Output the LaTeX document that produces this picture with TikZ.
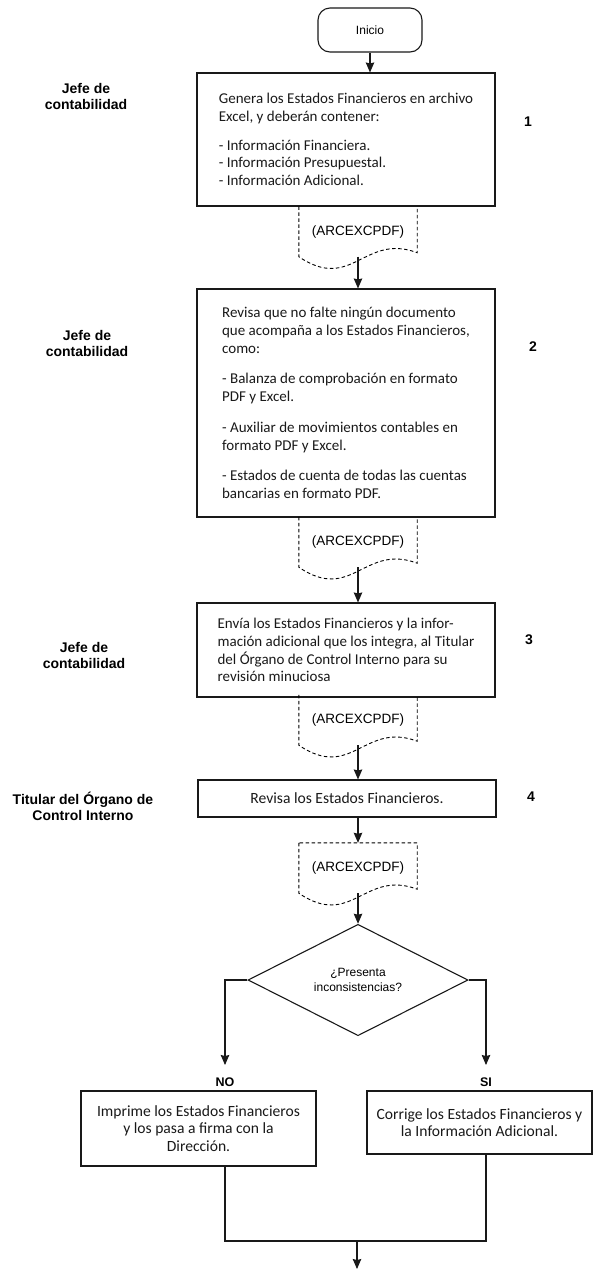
\documentclass[tikz,border=0pt]{standalone}
\usepackage{fontspec}
\setmainfont{Carlito}
\newfontfamily\arialfont{Liberation Sans}
\usetikzlibrary{positioning,shapes.geometric,arrows.meta}

% dashed outline of a document symbol around a node (open at the top)
\newcommand{\docborde}[1]{%
  \draw[docline] (#1.north west) -- (#1.south west)
    .. controls +(53,36) and +(-53,-20) .. ([yshift=4pt]#1.south east)
    -- (#1.north east);}
% same outline, closed at the top
\newcommand{\docbordecerrado}[1]{%
  \draw[docline] (#1.north west) -- (#1.south west)
    .. controls +(53,36) and +(-53,-20) .. ([yshift=4pt]#1.south east)
    -- (#1.north east) -- cycle;}

\begin{document}
\begin{tikzpicture}[x=1pt, y=-1pt,
			caja/.style={rectangle, draw=black!90, line width=1.1pt, minimum width=298pt, text=black!90, font=\fontsize{15}{17.7}\selectfont},
			inicio/.style={rectangle, rounded corners=12pt, draw=black!90, line width=1.1pt, minimum width=104pt, minimum height=44pt, font=\arialfont\fontsize{12}{14}\selectfont},
			documento/.style={rectangle, minimum width=118pt, minimum height=50pt, inner sep=0pt, font=\arialfont\fontsize{13.5}{15}\selectfont},
			docline/.style={line width=0.9pt, dash pattern=on 3.5pt off 2.5pt},
			decision/.style={diamond, draw=black!90, line width=1.1pt, minimum width=220pt, minimum height=103pt, inner sep=0pt, align=center, font=\arialfont\fontsize{12}{15}\selectfont},
			rol/.style={align=center, font=\arialfont\bfseries\fontsize{14}{16}\selectfont},
			paso/.style={font=\arialfont\bfseries\fontsize{14}{16}\selectfont},
			respuesta/.style={font=\arialfont\bfseries\fontsize{12.5}{14}\selectfont},
			linea/.style={line width=1.1pt, draw=black!90},
			flecha/.style={linea, -{Stealth[length=10pt, width=8.5pt, inset=1pt]}},
			]
			\useasboundingbox (0,0) rectangle (593,1270);

			%Nodes
			\node[inicio] (inicio) at (370,30) {Inicio};

			\node[caja, align=left, minimum height=133pt] (genera) at (346,139.5)
				{Genera los Estados Financieros en archivo\\Excel, y deberán contener:\\[11pt]- Información Financiera.\\- Información Presupuestal.\\- Información Adicional.};
			\node[documento] (doc1) at (358,231.5) {(ARCEXCPDF)};

			\node[caja, align=left, minimum height=228pt] (revisa) at (346,403)
				{Revisa que no falte ningún documento\\que acompaña a los Estados Financieros,\\como:\\[13pt]- Balanza de comprobación en formato\\PDF y Excel.\\[13pt]- Auxiliar de movimientos contables en\\formato PDF y Excel.\\[13pt]- Estados de cuenta de todas las cuentas\\bancarias en formato PDF.};
			\node[documento] (doc2) at (358,542) {(ARCEXCPDF)};

			\node[caja, align=left, minimum height=94pt] (envia) at (346,650)
				{Envía los Estados Financieros y la infor-\\mación adicional que los integra, al Titular\\del Órgano de Control Interno para su\\revisión minuciosa};
			\node[documento] (doc3) at (358,720) {(ARCEXCPDF)};

			\node[caja, minimum height=37pt, font=\fontsize{15.6}{17.7}\selectfont] (revisaef) at (347,798.5) {Revisa los Estados Financieros.};
			\node[documento] (doc4) at (358,868) {(ARCEXCPDF)};

			\node[decision] (incons) at (358,980) {¿Presenta\\inconsistencias?};

			\node[caja, minimum width=235pt, minimum height=75pt, align=center, font=\fontsize{15.6}{17.7}\selectfont] (imprime) at (198.5,1128.5)
				{Imprime los Estados Financieros\\y los pasa a firma con la\\Dirección.};
			\node[caja, minimum width=225pt, minimum height=63pt, align=center, font=\fontsize{15.6}{17.7}\selectfont] (corrige) at (479.5,1122.5)
				{Corrige los Estados Financieros y\\la Información Adicional.};

			%Roles and step numbers
			\node[rol] (rol1) at (86,96) {Jefe de\\contabilidad};
			\node[rol] (rol2) at (87,343) {Jefe de\\contabilidad};
			\node[rol] (rol3) at (84,655) {Jefe de\\contabilidad};
			\node[rol] (rol4) at (83,806) {Titular del Órgano de\\Control Interno};
			\node[paso] (paso1) at (528,122) {1};
			\node[paso] (paso2) at (533,347) {2};
			\node[paso] (paso3) at (529,640) {3};
			\node[paso] (paso4) at (531,797) {4};

			\node[respuesta] (no) at (225,1082) {NO};
			\node[respuesta] (si) at (486,1082) {SI};
			\coordinate (nofin) at (225,1065);
			\coordinate (sifin) at (486,1065);
			\coordinate (union) at (357,1241);
			\coordinate (fin) at (357,1269);

			%Documents
			\docborde{doc1}
			\docborde{doc2}
			\docborde{doc3}
			\docbordecerrado{doc4}

			%Arrows
			\draw[flecha] (inicio.south) -- (inicio.south |- genera.north);
			\draw[flecha] (doc1.south) -- (doc1.south |- revisa.north);
			\draw[flecha] (doc2.south) -- (doc2.south |- envia.north);
			\draw[flecha] (doc3.south) -- (doc3.south |- revisaef.north);
			\draw[flecha] (doc4.north |- revisaef.south) -- (doc4.north);
			\draw[flecha] (doc4.south) -- (incons.north);
			\draw[flecha] (incons.west) -| (nofin);
			\draw[flecha] (incons.east) -| (sifin);
			\draw[linea] (no |- imprime.south) |- (union);
			\draw[linea] (si |- corrige.south) |- (union);
			\draw[flecha] (union) -- (fin);
		\end{tikzpicture}
\end{document}
